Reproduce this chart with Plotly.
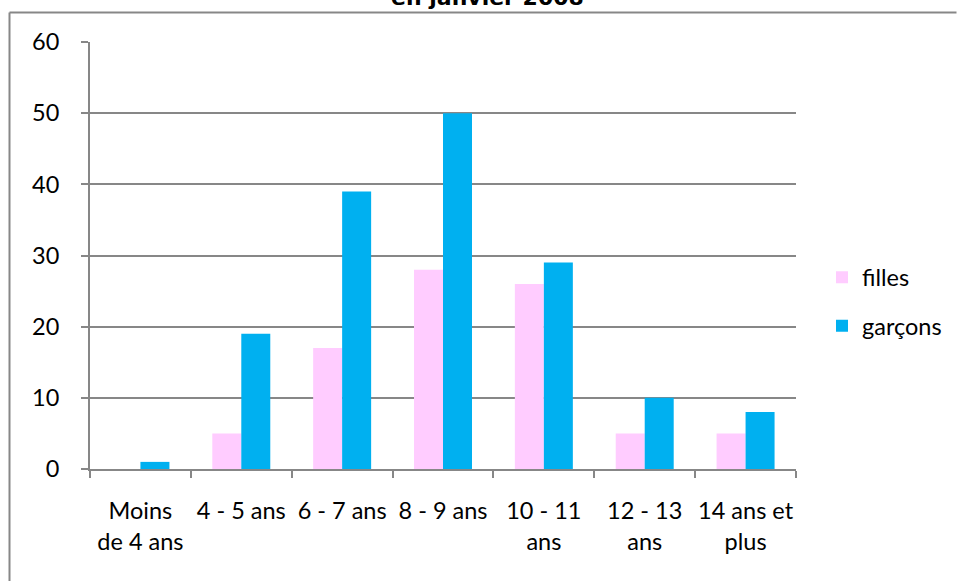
import plotly.graph_objects as go

# Age groups (x categories) and counts per group
categories = ["Moins<br>de 4 ans", "4 - 5 ans", "6 - 7 ans", "8 - 9 ans",
              "10 - 11<br>ans", "12 - 13<br>ans", "14 ans et<br>plus"]
filles = [0, 5, 17, 28, 26, 5, 5]
garcons = [1, 19, 39, 50, 29, 10, 8]
y_ticks = [0, 10, 20, 30, 40, 50, 60]

GRID = "#878787"
FONT = "Lato"
FS = 23.5

fig = go.Figure()
fig.add_trace(go.Bar(x=categories, y=filles, name="filles",
                     marker=dict(color="#FFCCFF", line=dict(width=0)),
                     legendgroup="f"))
fig.add_trace(go.Bar(x=categories, y=garcons, name="garçons",
                     marker=dict(color="#00B0F0", line=dict(width=0)),
                     legendgroup="g"))

W, H = 957, 581
L, R, T, B = 90, 161, 42, 112
plot_h = H - T - B
plot_w = W - L - R


def px_to_paper_y(py):
    return (H - B - py) / plot_h


def px_to_paper_x(px):
    return (px - L) / plot_w


fig.update_layout(
    width=W, height=H, autosize=False,
    margin=dict(l=L, r=R, t=T, b=B, pad=0, autoexpand=False),
    paper_bgcolor="white", plot_bgcolor="white",
    barmode="group", bargap=0.425, bargroupgap=0,
    font=dict(family=FONT, size=FS, color="black"),
    legend=dict(x=px_to_paper_x(822), y=px_to_paper_y(302),
                xanchor="left", yanchor="middle",
                font=dict(family=FONT, size=FS),
                traceorder="grouped", tracegroupgap=15,
                bgcolor="rgba(0,0,0,0)"),
    xaxis=dict(
        type="category", tickson="boundaries", tickangle=0, automargin=False,
        ticks="outside", ticklen=7, tickcolor=GRID, tickwidth=2,
        showline=True, linecolor=GRID, linewidth=2,
        showgrid=False, zeroline=False,
        ticklabelstandoff=20,
        tickfont=dict(family=FONT, size=FS),
    ),
    yaxis=dict(
        range=[0, 60], tickvals=y_ticks, automargin=False,
        ticks="outside", ticklen=7, tickcolor=GRID, tickwidth=2,
        showline=True, linecolor=GRID, linewidth=2,
        showgrid=True, gridcolor=GRID, gridwidth=1.5,
        zeroline=False, ticklabelstandoff=17,
        tickfont=dict(family=FONT, size=FS),
    ),
)

# Outer chart frame (top and left edges)
frame_top = px_to_paper_y(12.5)
frame_left = px_to_paper_x(9.5)
fig.add_shape(type="line", xref="paper", yref="paper",
              x0=frame_left, x1=px_to_paper_x(956.5), y0=frame_top, y1=frame_top,
              line=dict(color=GRID, width=2), layer="below")
fig.add_shape(type="line", xref="paper", yref="paper",
              x0=frame_left, x1=frame_left, y0=frame_top, y1=px_to_paper_y(581),
              line=dict(color=GRID, width=2), layer="below")

# Chart title (partly above the page edge)
fig.add_annotation(text="<b>en janvier 2008</b>", xref="paper", yref="paper",
                   x=px_to_paper_x(488), y=px_to_paper_y(12),
                   xanchor="center", yanchor="bottom", showarrow=False,
                   font=dict(family="DejaVu Sans", size=22, color="black"))

fig.write_html("out.html", config={"displayModeBar": False})
